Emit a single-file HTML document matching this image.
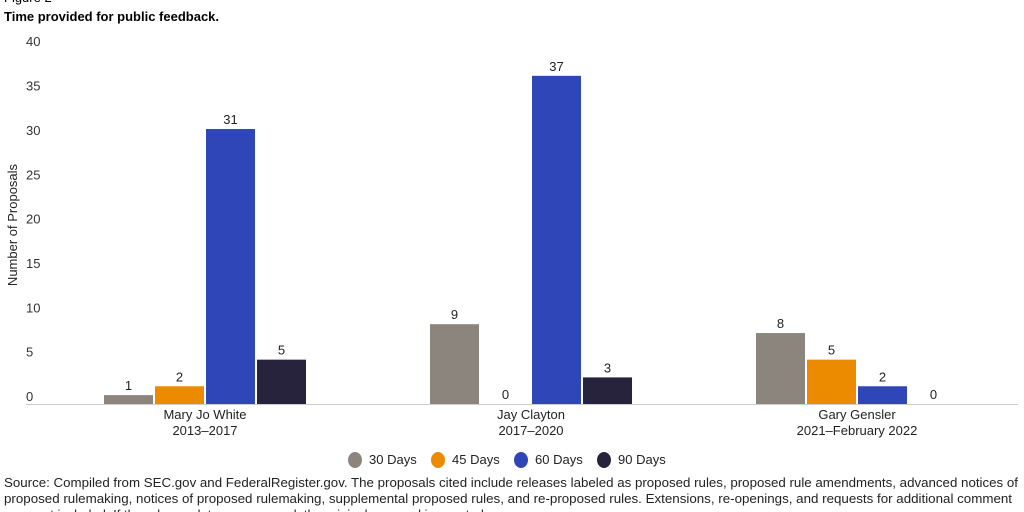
<!DOCTYPE html>
<html><head><meta charset="utf-8"><style>
body{margin:0;width:1024px;height:512px;overflow:hidden;background:#fff;font-family:"Liberation Sans Narrow","Liberation Sans",sans-serif;}
svg{display:block}
</style></head><body>
<svg width="1024" height="512" xmlns="http://www.w3.org/2000/svg">
<text x="4" y="2" font-size="13" fill="#000" font-family="Liberation Sans, sans-serif">Figure 2</text>
<text x="4" y="21" font-size="13" font-weight="bold" fill="#000" font-family="Liberation Sans, sans-serif">Time provided for public feedback.</text>
<text transform="translate(17,225) rotate(-90)" text-anchor="middle" font-size="13" fill="#222" font-family="Liberation Sans, sans-serif">Number of Proposals</text>
<g id="yticks"></g>
<line x1="26" y1="404.5" x2="1018" y2="404.5" stroke="#ccc" stroke-width="1"/>
<g id="bars"></g>
<g id="legend"></g>
<text font-size="13" fill="#222" font-family="Liberation Sans, sans-serif">
<tspan x="4" y="487" textLength="1014" lengthAdjust="spacingAndGlyphs">Source: Compiled from SEC.gov and FederalRegister.gov. The proposals cited include releases labeled as proposed rules, proposed rule amendments, advanced notices of</tspan>
<tspan x="4" y="503" textLength="1008" lengthAdjust="spacingAndGlyphs">proposed rulemaking, notices of proposed rulemaking, supplemental proposed rules, and re-proposed rules. Extensions, re-openings, and requests for additional comment</tspan>
<tspan x="4" y="519">were not included. If the rule was later re-proposed, the original proposal is counted.</tspan>
</text>
</svg>
<script>
const categories=["Mary Jo White","Jay Clayton","Gary Gensler"];
const subLabels=["2013–2017","2017–2020","2021–February 2022"];
const seriesNames=["30 Days","45 Days","60 Days","90 Days"];
const s30=[1,9,8];
const s45=[2,0,5];
const s60=[31,37,2];
const s90=[5,3,0];
const yTicks=[0,5,10,15,20,25,30,35,40];
const colors=["#8c857d","#ec8b00","#2f46b8","#28233d"];
const NS="http://www.w3.org/2000/svg";
const y0=404,ppu=8.87;
function y(v){return y0-v*ppu;}
function cx(i){return 205+i*326;}
function mk(tag,attrs,parent){const e=document.createElementNS(NS,tag);for(const k in attrs)e.setAttribute(k,attrs[k]);parent.appendChild(e);return e;}
const yt=document.getElementById('yticks');
yTicks.forEach(t=>{const e=mk('text',{x:26,y:y(t)-3,'font-size':13,fill:'#333','font-family':'Liberation Sans, sans-serif'},yt);e.textContent=t;

});
const bg=document.getElementById('bars');
const series=[s30,s45,s60,s90];
categories.forEach((c,i)=>{
 series.forEach((s,j)=>{
  const x=cx(i)-101+j*51,v=s[i];
  const r=mk('rect',{x:x,y:y(v),width:49,height:y0-y(v),fill:colors[j]},bg);
  
  
  const t=mk('text',{x:x+24.5,y:y(v)-5,'text-anchor':'middle','font-size':13,fill:'#222','font-family':'Liberation Sans, sans-serif'},bg);
  t.textContent=v;
  
  
 });
 const l=mk('text',{x:cx(i),y:419,'text-anchor':'middle','font-size':13,fill:'#222','font-family':'Liberation Sans, sans-serif'},bg);
 l.textContent=c;
 
 
 const l2=mk('text',{x:cx(i),y:435,'text-anchor':'middle','font-size':13,fill:'#222','font-family':'Liberation Sans, sans-serif'},bg);
 l2.textContent=subLabels[i];
 
 
});
const lg=document.getElementById('legend');
const lx=[355,438,521,604];
seriesNames.forEach((n,j)=>{
 const g=mk('g',{},lg);
 
 
 mk('ellipse',{cx:lx[j],cy:460,rx:7,ry:8,fill:colors[j]},g);
 const t=mk('text',{x:lx[j]+14,y:464,'font-size':13,fill:'#222','font-family':'Liberation Sans, sans-serif'},g);
 t.textContent=n;
});
</script>
</body></html>
